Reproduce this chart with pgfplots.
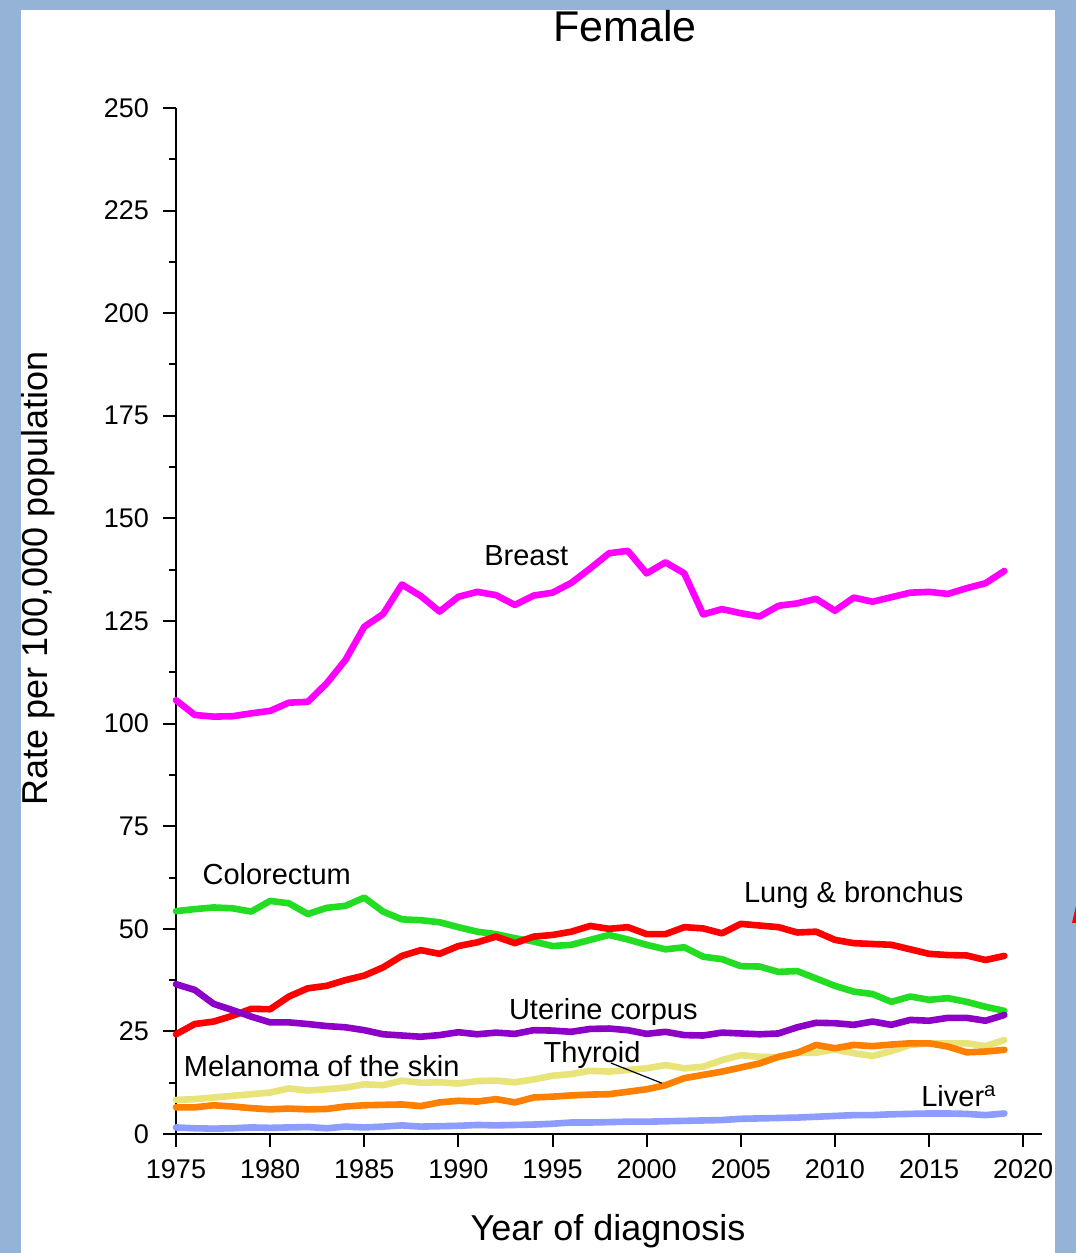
\documentclass[border=0pt]{standalone}
\usepackage{pgfplots}
\pgfplotsset{compat=1.18}
\usepackage{fontspec}
\setmainfont{Liberation Sans}

\definecolor{bgblue}{HTML}{95B3D7}
\definecolor{cBreast}{HTML}{FF00FF}
\definecolor{cColo}{HTML}{22DD22}
\definecolor{cLung}{HTML}{FF0000}
\definecolor{cUter}{HTML}{8C00C8}
\definecolor{cMel}{HTML}{E8E47A}
\definecolor{cThy}{HTML}{FF8000}
\definecolor{cLiver}{HTML}{8C9CFF}

\begin{document}
\begin{tikzpicture}
% page background and white panel
\useasboundingbox (-88pt,-59.5pt) rectangle (450pt,567pt);
\fill[bgblue] (-88pt,-59.5pt) rectangle (450pt,567pt);
\fill[white] (-77.5pt,-59.5pt) rectangle (439.5pt,562pt);
\fill[red] (448pt,105.5pt) -- (450pt,114pt) -- (450pt,105.5pt) -- cycle;

\begin{axis}[
  at={(0pt,0pt)}, anchor=south west,
  scale only axis, width=433pt, height=513pt,
  xmin=1975, xmax=2021, ymin=0, ymax=250,
  axis x line=bottom, axis y line=left,
  axis line style={line width=1pt,-},
  xtick={1975,1980,...,2020},
  ytick={0,25,...,250},
  minor y tick num=1,
  tick align=outside,
  major tick length=6.5pt, minor tick length=3.5pt,
  tick style={line width=1pt,black},
  /pgf/number format/1000 sep={},
  /pgf/number format/assume math mode=true,
  tick label style={font=\fontsize{13.5}{16}\selectfont},
  xticklabel style={yshift=-3pt},
  yticklabel style={xshift=-3.5pt},
  clip=false,
  every axis plot/.append style={line width=3.3pt, line join=round, line cap=round},
]
% Breast
\addplot[cBreast] coordinates {
(1975,105.7)(1976,102.1)(1977,101.7)(1978,101.8)(1979,102.5)(1980,103.1)
(1981,105.1)(1982,105.3)(1983,109.8)(1984,115.5)(1985,123.6)(1986,126.7)
(1987,133.9)(1988,131.1)(1989,127.3)(1990,130.9)(1991,132.1)(1992,131.3)
(1993,128.9)(1994,131.2)(1995,131.9)(1996,134.3)(1997,137.8)(1998,141.5)
(1999,142.1)(2000,136.6)(2001,139.3)(2002,136.6)(2003,126.6)(2004,127.9)
(2005,126.9)(2006,126.1)(2007,128.7)(2008,129.3)(2009,130.4)(2010,127.5)
(2011,130.7)(2012,129.7)(2013,130.8)(2014,131.9)(2015,132.1)(2016,131.6)
(2017,133.0)(2018,134.2)(2019,137.2)};
% Colorectum
\addplot[cColo] coordinates {
(1975,54.3)(1976,54.8)(1977,55.2)(1978,55.0)(1979,54.2)(1980,56.8)
(1981,56.2)(1982,53.6)(1983,55.1)(1984,55.6)(1985,57.6)(1986,54.2)
(1987,52.3)(1988,52.1)(1989,51.6)(1990,50.4)(1991,49.3)(1992,48.7)
(1993,47.7)(1994,46.9)(1995,45.8)(1996,46.1)(1997,47.3)(1998,48.5)
(1999,47.4)(2000,46.1)(2001,45.0)(2002,45.5)(2003,43.2)(2004,42.6)
(2005,40.9)(2006,40.8)(2007,39.5)(2008,39.7)(2009,37.9)(2010,36.1)
(2011,34.7)(2012,34.1)(2013,32.2)(2014,33.5)(2015,32.7)(2016,33.1)
(2017,32.2)(2018,31.0)(2019,30.0)};
% Lung & bronchus
\addplot[cLung] coordinates {
(1975,24.3)(1976,26.8)(1977,27.4)(1978,28.8)(1979,30.5)(1980,30.4)
(1981,33.5)(1982,35.5)(1983,36.1)(1984,37.5)(1985,38.6)(1986,40.6)
(1987,43.4)(1988,44.8)(1989,43.9)(1990,45.8)(1991,46.7)(1992,48.1)
(1993,46.5)(1994,48.1)(1995,48.5)(1996,49.3)(1997,50.7)(1998,50.0)
(1999,50.4)(2000,48.7)(2001,48.7)(2002,50.4)(2003,50.1)(2004,48.9)
(2005,51.2)(2006,50.8)(2007,50.4)(2008,49.1)(2009,49.3)(2010,47.3)
(2011,46.5)(2012,46.3)(2013,46.1)(2014,45.0)(2015,43.9)(2016,43.6)
(2017,43.5)(2018,42.4)(2019,43.4)};
% Uterine corpus
\addplot[cUter] coordinates {
(1975,36.5)(1976,35.1)(1977,31.7)(1978,30.2)(1979,28.6)(1980,27.2)
(1981,27.2)(1982,26.8)(1983,26.3)(1984,26.0)(1985,25.3)(1986,24.3)
(1987,24.0)(1988,23.7)(1989,24.1)(1990,24.8)(1991,24.3)(1992,24.7)
(1993,24.4)(1994,25.3)(1995,25.2)(1996,24.9)(1997,25.6)(1998,25.7)
(1999,25.3)(2000,24.4)(2001,24.9)(2002,24.1)(2003,24.0)(2004,24.7)
(2005,24.5)(2006,24.3)(2007,24.5)(2008,26.0)(2009,27.1)(2010,27.0)
(2011,26.6)(2012,27.4)(2013,26.6)(2014,27.8)(2015,27.6)(2016,28.3)
(2017,28.3)(2018,27.6)(2019,29.0)};
% Melanoma of the skin
\addplot[cMel] coordinates {
(1975,8.3)(1976,8.5)(1977,8.9)(1978,9.3)(1979,9.7)(1980,10.1)
(1981,11.1)(1982,10.6)(1983,10.9)(1984,11.3)(1985,12.1)(1986,11.9)
(1987,13.0)(1988,12.5)(1989,12.6)(1990,12.3)(1991,12.9)(1992,13.0)
(1993,12.6)(1994,13.3)(1995,14.2)(1996,14.6)(1997,15.4)(1998,15.2)
(1999,15.6)(2000,16.0)(2001,16.8)(2002,16.0)(2003,16.4)(2004,18.0)
(2005,19.2)(2006,18.8)(2007,18.7)(2008,19.8)(2009,19.8)(2010,20.6)
(2011,19.7)(2012,19.0)(2013,20.2)(2014,21.7)(2015,22.1)(2016,22.1)
(2017,22.1)(2018,21.4)(2019,22.9)};
% Thyroid
\addplot[cThy] coordinates {
(1975,6.5)(1976,6.5)(1977,7.0)(1978,6.7)(1979,6.3)(1980,6.0)
(1981,6.2)(1982,6.0)(1983,6.1)(1984,6.7)(1985,7.0)(1986,7.1)
(1987,7.2)(1988,6.8)(1989,7.7)(1990,8.1)(1991,7.9)(1992,8.5)
(1993,7.7)(1994,8.9)(1995,9.1)(1996,9.4)(1997,9.6)(1998,9.7)
(1999,10.3)(2000,10.9)(2001,11.9)(2002,13.6)(2003,14.4)(2004,15.2)
(2005,16.2)(2006,17.2)(2007,18.8)(2008,19.8)(2009,21.7)(2010,20.9)
(2011,21.7)(2012,21.4)(2013,21.8)(2014,22.1)(2015,22.1)(2016,21.3)
(2017,19.9)(2018,20.1)(2019,20.5)};
% Liver
\addplot[cLiver] coordinates {
(1975,1.6)(1976,1.4)(1977,1.3)(1978,1.4)(1979,1.6)(1980,1.5)
(1981,1.6)(1982,1.7)(1983,1.4)(1984,1.8)(1985,1.6)(1986,1.8)
(1987,2.1)(1988,1.8)(1989,1.9)(1990,2.0)(1991,2.2)(1992,2.1)
(1993,2.2)(1994,2.3)(1995,2.5)(1996,2.8)(1997,2.8)(1998,2.9)
(1999,3.0)(2000,3.0)(2001,3.1)(2002,3.2)(2003,3.3)(2004,3.4)
(2005,3.7)(2006,3.8)(2007,3.9)(2008,4.0)(2009,4.2)(2010,4.4)
(2011,4.6)(2012,4.6)(2013,4.8)(2014,4.9)(2015,5.0)(2016,5.0)
(2017,4.9)(2018,4.6)(2019,5.0)};

% series names
\begin{scope}[every node/.style={font=\fontsize{14.5}{16}\selectfont, inner sep=0pt}]
\node[anchor=base] at (axis cs:1993.6,138.6) {Breast};
\node[anchor=base] at (axis cs:1980.35,60.7) {Colorectum};
\node[anchor=base] at (axis cs:2011.0,56.3) {Lung \& bronchus};
\node[anchor=base] at (axis cs:1997.7,27.8) {Uterine corpus};
\node[anchor=base] at (axis cs:1982.74,13.9) {Melanoma of the skin};
\node[anchor=base] at (axis cs:1997.1,17.5) {Thyroid};
\node[anchor=base west] at (axis cs:2014.57,6.6) {Liver\textsuperscript{a}};
\end{scope}
\draw[line width=0.6pt] (axis cs:1998.1,17.3) -- (axis cs:2000.8,12.4);
\end{axis}

% titles
\node[anchor=base, font=\fontsize{21.5}{25}\selectfont] at (224.5pt,546pt) {Female};
\node[anchor=base, font=\fontsize{18}{22}\selectfont] at (216pt,-53pt) {Year of diagnosis};
\node[rotate=90, font=\fontsize{18}{22}\selectfont] at (-69pt,277.75pt) {Rate per 100,000 population};
\end{tikzpicture}
\end{document}
